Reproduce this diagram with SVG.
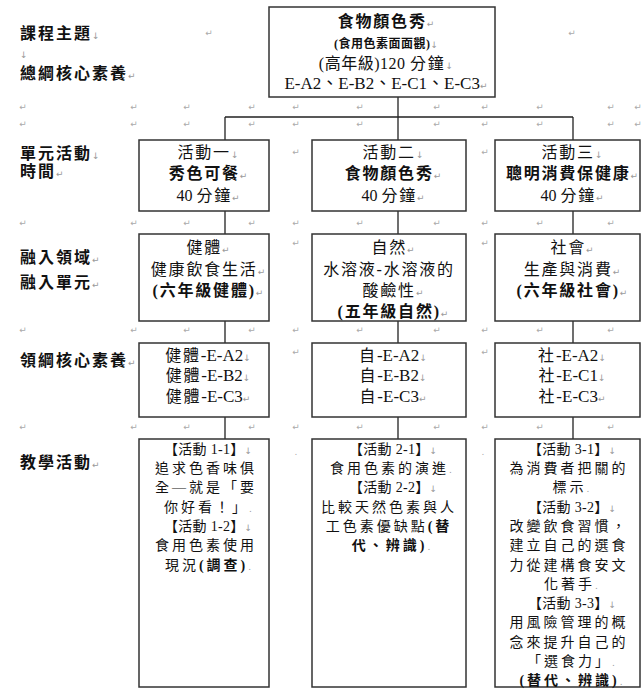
<svg xmlns="http://www.w3.org/2000/svg" width="642" height="689" viewBox="0 0 642 689">
<style>
.box{fill:#fff;stroke:#333;stroke-width:1.5}
.sh{stroke:#c8c8c8;stroke-width:1.5}
.cn{stroke:#222;stroke-width:1.3;fill:none}
text{font-family:"Liberation Serif","Noto Sans CJK TC",serif;fill:#111}
.c{text-anchor:middle;font-size:16px;letter-spacing:1.8px}
.e{font-size:17px;letter-spacing:0}
.b{font-weight:bold}
.sm{font-size:12px;letter-spacing:0.5px}
.lab{font-size:16px;letter-spacing:2px;font-weight:bold}
.s{text-anchor:middle;font-size:14px;letter-spacing:3px}
.k{letter-spacing:0.3px}
.pm{fill:#9a9a9a;font-family:"DejaVu Sans",sans-serif;font-size:9px;letter-spacing:0;font-weight:normal}
.g{fill:#aaa;font-family:"DejaVu Sans",sans-serif;font-size:9px;text-anchor:middle}
</style>

<g id="marks">
<text class="g" x="209" y="36">↵</text><text class="g" x="572" y="36">↵</text>
<text class="g" x="23" y="110">↵</text><text class="g" x="134" y="110">↵</text><text class="g" x="187" y="110">↵</text><text class="g" x="252" y="110">↵</text><text class="g" x="296" y="110">↵</text><text class="g" x="360" y="110">↵</text><text class="g" x="437" y="110">↵</text><text class="g" x="485" y="110">↵</text><text class="g" x="540" y="110">↵</text><text class="g" x="611" y="110">↵</text><text class="g" x="638" y="110">↵</text>
<text class="g" x="23" y="127">↵</text><text class="g" x="134" y="127">↵</text><text class="g" x="187" y="127">↵</text><text class="g" x="252" y="127">↵</text><text class="g" x="296" y="127">↵</text><text class="g" x="360" y="127">↵</text><text class="g" x="437" y="127">↵</text><text class="g" x="485" y="127">↵</text><text class="g" x="540" y="127">↵</text><text class="g" x="611" y="127">↵</text><text class="g" x="638" y="127">↵</text>
<text class="g" x="296" y="155">↵</text><text class="g" x="485" y="155">↵</text>
<text class="g" x="23" y="226">↵</text><text class="g" x="134" y="226">↵</text><text class="g" x="187" y="226">↵</text><text class="g" x="252" y="226">↵</text><text class="g" x="296" y="226">↵</text><text class="g" x="360" y="226">↵</text><text class="g" x="437" y="226">↵</text><text class="g" x="485" y="226">↵</text><text class="g" x="540" y="226">↵</text><text class="g" x="611" y="226">↵</text>
<text class="g" x="296" y="246">↵</text><text class="g" x="485" y="246">↵</text>
<text class="g" x="23" y="333">↵</text><text class="g" x="134" y="333">↵</text><text class="g" x="187" y="333">↵</text><text class="g" x="252" y="333">↵</text><text class="g" x="296" y="333">↵</text><text class="g" x="360" y="333">↵</text><text class="g" x="437" y="333">↵</text><text class="g" x="485" y="333">↵</text><text class="g" x="540" y="333">↵</text><text class="g" x="611" y="333">↵</text>
<text class="g" x="296" y="355">↵</text><text class="g" x="485" y="355">↵</text>
<text class="g" x="23" y="430">↵</text><text class="g" x="134" y="430">↵</text><text class="g" x="187" y="430">↵</text><text class="g" x="252" y="430">↵</text><text class="g" x="296" y="430">↵</text><text class="g" x="360" y="430">↵</text><text class="g" x="437" y="430">↵</text><text class="g" x="485" y="430">↵</text><text class="g" x="540" y="430">↵</text><text class="g" x="611" y="430">↵</text>
<text class="g" x="296" y="455">.</text><text class="g" x="483" y="455">.</text>
</g>

<g id="labels">
<text class="lab" x="20" y="39">課程主題<tspan class="pm">↓</tspan></text>
<text class="pm" x="20" y="58">↓</text>
<text class="lab" x="20" y="79">總綱核心素養<tspan class="pm">↵</tspan></text>
<text class="lab" x="20" y="159">單元活動<tspan class="pm">↓</tspan></text>
<text class="lab" x="20" y="177">時間<tspan class="pm">↵</tspan></text>
<text class="lab" x="20" y="263">融入領域<tspan class="pm">↵</tspan></text>
<text class="lab" x="20" y="288">融入單元<tspan class="pm">↵</tspan></text>
<text class="lab" x="20" y="366">領綱核心素養<tspan class="pm">↵</tspan></text>
<text class="lab" x="20" y="468">教學活動<tspan class="pm">↵</tspan></text>
</g>

<g id="connectors">
<path class="cn" d="M398 97V140M225 117H573M225 117V140M573 117V140"/>
<path class="cn" d="M225 211V234M398 211V234M573 211V234"/>
<path class="cn" d="M225 321V343M398 321V343M573 321V343"/>
<path class="cn" d="M225 417V439M398 417V439M573 417V439"/>
</g>

<g id="course">
<rect class="box" x="269" y="7" width="226" height="90"/>
<text class="c b" x="386" y="27">食物顏色秀<tspan class="pm">↵</tspan></text>
<text class="c b sm" x="386" y="48">(食用色素面面觀)<tspan class="pm">↓</tspan></text>
<text class="c" x="386" y="69"><tspan letter-spacing="0.5">(高年級)120 </tspan>分鐘<tspan class="pm">↓</tspan></text>
<text class="c e" x="386" y="89">E-A2、E-B2、E-C1、E-C3<tspan class="pm">↵</tspan></text>
</g>

<g id="act1">
<rect class="box" x="139" y="140" width="130" height="71"/>
<text class="c" x="208" y="158">活動一<tspan class="pm">↓</tspan></text>
<text class="c b" x="208" y="179">秀色可餐<tspan class="pm">↵</tspan></text>
<text class="c" x="208" y="201"><tspan letter-spacing="0">40 </tspan>分鐘<tspan class="pm">↵</tspan></text>
</g>
<g id="act2">
<rect class="box" x="312" y="140" width="154" height="71"/>
<text class="c" x="393" y="158">活動二<tspan class="pm">↓</tspan></text>
<text class="c b" x="393" y="179">食物顏色秀<tspan class="pm">↵</tspan></text>
<text class="c" x="393" y="201"><tspan letter-spacing="0">40 </tspan>分鐘<tspan class="pm">↵</tspan></text>
</g>
<g id="act3">
<rect class="box" x="495" y="140" width="145" height="71"/>
<text class="c" x="572" y="158">活動三<tspan class="pm">↓</tspan></text>
<text class="c b" x="572" y="179">聰明消費保健康<tspan class="pm">↵</tspan></text>
<text class="c" x="572" y="201"><tspan letter-spacing="0">40 </tspan>分鐘<tspan class="pm">↵</tspan></text>
</g>

<g id="dom1">
<rect class="box" x="139" y="234" width="130" height="87"/>
<text class="c" x="208" y="253">健體<tspan class="pm">↵</tspan></text>
<text class="c" x="208" y="275">健康飲食生活<tspan class="pm">↵</tspan></text>
<text class="c b" x="208" y="296">(六年級健體)<tspan class="pm">↵</tspan></text>
</g>
<g id="dom2">
<rect class="box" x="312" y="234" width="154" height="87"/>
<text class="c" x="393" y="253">自然<tspan class="pm">↵</tspan></text>
<text class="c" x="389" y="275">水溶液-水溶液的</text>
<text class="c" x="393" y="296">酸鹼性<tspan class="pm">↵</tspan></text>
<text class="c b" x="393" y="317">(五年級自然)<tspan class="pm">↵</tspan></text>
</g>
<g id="dom3">
<rect class="box" x="495" y="234" width="145" height="87"/>
<text class="c" x="572" y="253">社會<tspan class="pm">↵</tspan></text>
<text class="c" x="572" y="275">生產與消費<tspan class="pm">↵</tspan></text>
<text class="c b" x="572" y="296">(六年級社會)<tspan class="pm">↵</tspan></text>
</g>

<g id="core1">
<rect class="box" x="139" y="343" width="130" height="74"/>
<text class="c" x="208" y="361">健體<tspan class="e">-E-A2</tspan><tspan class="pm">↓</tspan></text>
<text class="c" x="208" y="381">健體<tspan class="e">-E-B2</tspan><tspan class="pm">↓</tspan></text>
<text class="c" x="208" y="402">健體<tspan class="e">-E-C3</tspan><tspan class="pm">↵</tspan></text>
</g>
<g id="core2">
<rect class="box" x="312" y="343" width="154" height="74"/>
<text class="c" x="393" y="361">自<tspan class="e">-E-A2</tspan><tspan class="pm">↓</tspan></text>
<text class="c" x="393" y="381">自<tspan class="e">-E-B2</tspan><tspan class="pm">↓</tspan></text>
<text class="c" x="393" y="402">自<tspan class="e">-E-C3</tspan><tspan class="pm">↵</tspan></text>
</g>
<g id="core3">
<rect class="box" x="495" y="343" width="145" height="74"/>
<text class="c" x="572" y="361">社<tspan class="e">-E-A2</tspan><tspan class="pm">↓</tspan></text>
<text class="c" x="572" y="381">社<tspan class="e">-E-C1</tspan><tspan class="pm">↓</tspan></text>
<text class="c" x="572" y="402">社<tspan class="e">-E-C3</tspan><tspan class="pm">↵</tspan></text>
</g>

<g id="teach1">
<rect class="box" x="139" y="439" width="130" height="248"/>
<text class="s k" x="208" y="454">【活動 1-1】<tspan class="pm">↓</tspan></text>
<text class="s" x="206" y="473">追求色香味俱</text>
<text class="s" x="206" y="492">全—就是「要</text>
<text class="s" x="208" y="512">你好看！」<tspan class="pm">.</tspan></text>
<text class="s k" x="208" y="531">【活動 1-2】<tspan class="pm">↓</tspan></text>
<text class="s" x="206" y="550">食用色素使用</text>
<text class="s" x="208" y="570">現況<tspan class="b">(調查)</tspan><tspan class="pm">.</tspan></text>
</g>
<g id="teach2">
<rect class="box" x="312" y="439" width="154" height="248"/>
<text class="s k" x="393" y="454">【活動 2-1】<tspan class="pm">↓</tspan></text>
<text class="s" x="391" y="473">食用色素的演進<tspan class="pm">.</tspan></text>
<text class="s k" x="393" y="492">【活動 2-2】<tspan class="pm">↓</tspan></text>
<text class="s" x="389" y="512">比較天然色素與人</text>
<text class="s" x="389" y="531">工色素優缺點<tspan class="b">(替</tspan></text>
<text class="s b" x="391" y="550">代、辨識)<tspan class="pm">.</tspan></text>
</g>
<g id="teach3">
<rect class="box" x="495" y="439" width="145" height="248"/>
<text class="s k" x="572" y="454">【活動 3-1】<tspan class="pm">↓</tspan></text>
<text class="s" x="569" y="473">為消費者把關的</text>
<text class="s" x="571" y="492">標示<tspan class="pm">.</tspan></text>
<text class="s k" x="572" y="512">【活動 3-2】<tspan class="pm">↓</tspan></text>
<text class="s" x="569" y="531">改變飲食習慣，</text>
<text class="s" x="569" y="550">建立自己的選食</text>
<text class="s" x="569" y="570">力從建構食安文</text>
<text class="s" x="571" y="589">化著手<tspan class="pm">.</tspan></text>
<text class="s k" x="572" y="608">【活動 3-3】<tspan class="pm">↓</tspan></text>
<text class="s" x="569" y="627">用風險管理的概</text>
<text class="s" x="569" y="647">念來提升自己的</text>
<text class="s" x="571" y="666">「選食力」<tspan class="pm">.</tspan></text>
<text class="s b" x="571" y="685">(替代、辨識)<tspan class="pm">.</tspan></text>
</g>
</svg>
